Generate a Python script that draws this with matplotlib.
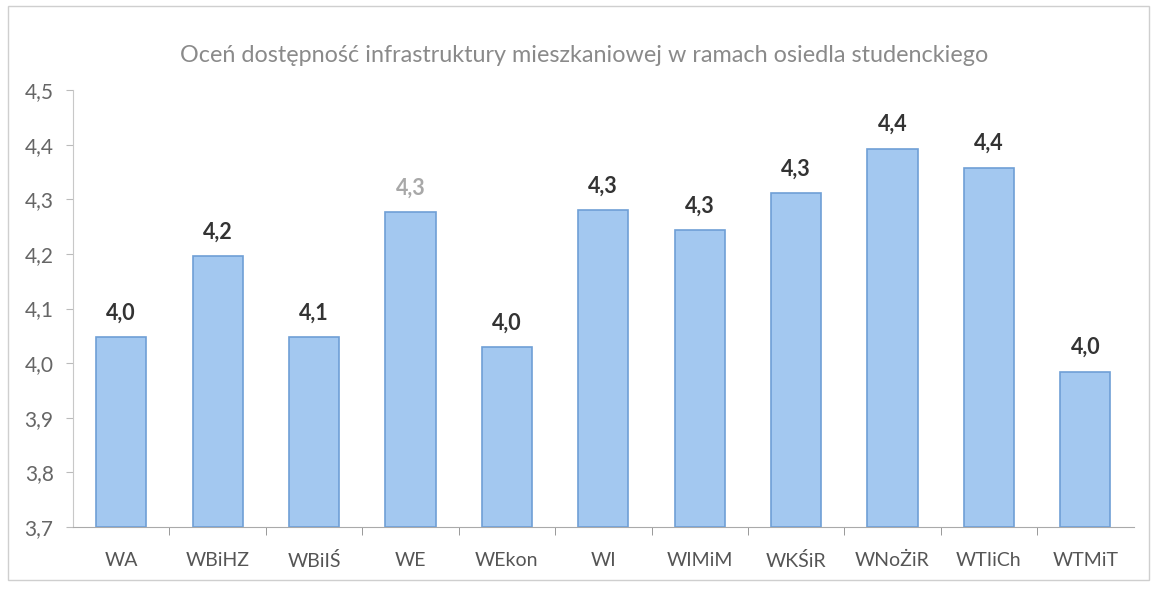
import matplotlib
matplotlib.use("Agg")
import matplotlib.pyplot as plt
from matplotlib.patches import Rectangle

categories = ["WA", "WBiHZ", "WBiIŚ", "WE", "WEkon", "WI", "WIMiM", "WKŚiR", "WNoŻiR", "WTIiCh", "WTMiT"]
values = [4.047, 4.196, 4.047, 4.276, 4.029, 4.280, 4.243, 4.311, 4.393, 4.358, 3.984]
value_labels = ["4,0", "4,2", "4,1", "4,3", "4,0", "4,3", "4,3", "4,3", "4,4", "4,4", "4,0"]
yticks = [3.7, 3.8, 3.9, 4.0, 4.1, 4.2, 4.3, 4.4, 4.5]
ytick_labels = ["3,7", "3,8", "3,9", "4,0", "4,1", "4,2", "4,3", "4,4", "4,5"]
title = "Oceń dostępność infrastruktury mieszkaniowej w ramach osiedla studenckiego"

plt.rcParams['font.family'] = ['Lato', 'DejaVu Sans']

fig = plt.figure(figsize=(11.52, 5.89), dpi=100)
ax = fig.add_axes([0.0634, 0.1053, 0.9206, 0.7417])

x = list(range(len(categories)))
ax.bar(x, [v - 3.7 for v in values], bottom=3.7, width=0.52,
       color="#a3c8f0", edgecolor="#6f9fd6", linewidth=1.2, zorder=3)

for i, (v, lab) in enumerate(zip(values, value_labels)):
    col = "#a8a8a8" if categories[i] == "WE" else "#333333"
    ax.annotate(lab, (i, v), xytext=(0, 10), textcoords="offset points",
                ha="center", va="bottom", fontsize=15.5,
                fontweight="bold", color=col)

ax.set_xlim(-0.5, len(categories) - 0.5)
ax.set_ylim(3.7, 4.5)
ax.set_yticks(yticks)
ax.set_yticklabels(ytick_labels, fontsize=15, color="#666666")
ax.set_xticks(x)
ax.set_xticklabels(categories, fontsize=14, color="#555555")
ax.tick_params(axis="x", length=0, pad=18)
ax.tick_params(axis="y", length=5, color="#bbbbbb", pad=9)
ax.set_xticks([i + 0.5 for i in range(len(categories) - 1)], minor=True)
ax.tick_params(axis="x", which="minor", length=6, color="#888888", direction="out")

for s in ["top", "right"]:
    ax.spines[s].set_visible(False)
ax.spines["left"].set_color("#c8c8c8")
ax.spines["bottom"].set_color("#aaaaaa")

fig.text(0.507, 0.905, title, ha="center", va="center", fontsize=16.8, color="#8a8a8a")

fig.patches.append(Rectangle((0.007, 0.015), 0.99, 0.975, transform=fig.transFigure,
                             fill=False, edgecolor="#cfcfcf", linewidth=1))

fig.savefig("out.png", dpi=100)
